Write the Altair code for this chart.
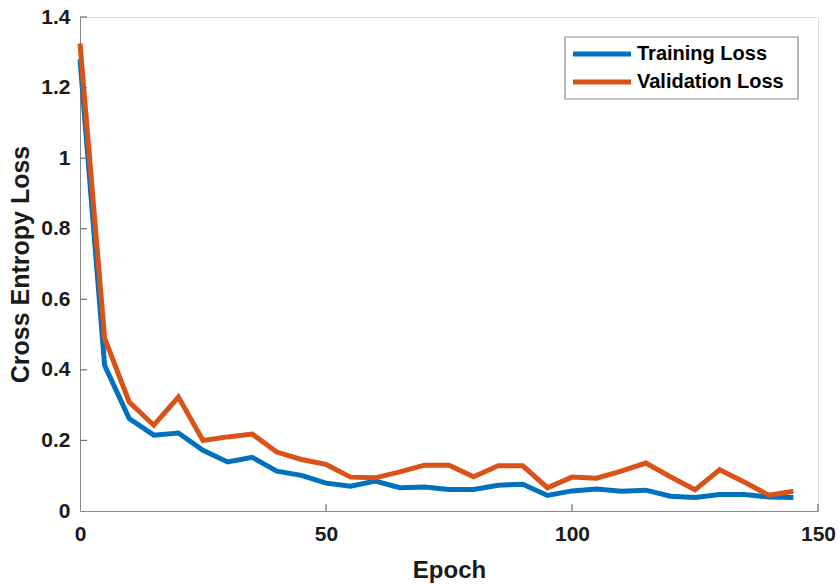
import altair as alt
import pandas as pd

epochs = [0, 5, 10, 15, 20, 25, 30, 35, 40, 45, 50, 55, 60, 65, 70, 75, 80, 85, 90, 95,
          100, 105, 110, 115, 120, 125, 130, 135, 140, 145]
training_loss = [1.28, 0.413, 0.262, 0.215, 0.221, 0.172, 0.139, 0.152, 0.113, 0.101,
                 0.079, 0.070, 0.085, 0.066, 0.068, 0.061, 0.061, 0.073, 0.076, 0.044,
                 0.057, 0.062, 0.056, 0.059, 0.042, 0.038, 0.047, 0.047, 0.040, 0.038]
validation_loss = [1.325, 0.49, 0.309, 0.243, 0.323, 0.200, 0.210, 0.218, 0.167, 0.146,
                   0.132, 0.096, 0.094, 0.111, 0.130, 0.130, 0.097, 0.128, 0.128, 0.066,
                   0.096, 0.093, 0.113, 0.136, 0.097, 0.060, 0.117, 0.082, 0.045, 0.056]
series_names = ["Training Loss", "Validation Loss"]
series_colors = ["#0072BD", "#D95319"]
x_ticks = [0, 50, 100, 150]
y_ticks = [0, 0.2, 0.4, 0.6, 0.8, 1, 1.2, 1.4]

rows = []
for name, vals in zip(series_names, [training_loss, validation_loss]):
    for e, v in zip(epochs, vals):
        rows.append({"Epoch": e, "Loss": v, "Series": name})
df = pd.DataFrame(rows)

W, H = 738, 494
FONT = "Liberation Sans"
AXC = "#6e6e6e"
TXT = "#1a1a1a"

xscale = alt.Scale(domain=[0, 150], nice=False, zero=False)
yscale = alt.Scale(domain=[0, 1.4], nice=False)
cscale = alt.Scale(domain=series_names, range=series_colors)

lines = alt.Chart(df).mark_line(strokeWidth=5, strokeJoin="miter").encode(
    x=alt.X("Epoch:Q", scale=xscale,
            axis=alt.Axis(values=x_ticks, title="Epoch", ticks=False, grid=False,
                          labelFlush=False, labelPadding=12, labelFontSize=21,
                          labelFontWeight="bold", labelFont=FONT, labelColor=TXT,
                          titleFontSize=24, titleFont=FONT, titleFontWeight="bold",
                          titleColor=TXT, titleY=66, titleBaseline="alphabetic")),
    y=alt.Y("Loss:Q", scale=yscale,
            axis=alt.Axis(values=y_ticks, format="~g", title="Cross Entropy Loss",
                          ticks=False, grid=False, labelFlush=False, labelPadding=10,
                          labelFontSize=21, labelFontWeight="bold", labelFont=FONT,
                          labelColor=TXT,
                          titleFontSize=25, titleFont=FONT, titleFontWeight="bold",
                          titleColor=TXT, titleX=-47, titleY=H / 2,
                          titleBaseline="bottom", titleAngle=-90)),
    color=alt.Color("Series:N", scale=cscale, legend=None),
    order=alt.Order("Series:N"),
)

xtick_df = pd.DataFrame({"t": x_ticks[1:]})
ytick_df = pd.DataFrame({"t": y_ticks[1:]})

xticks = alt.Chart(xtick_df).mark_rule(color=AXC, strokeWidth=1.2).encode(
    x=alt.X("t:Q", scale=xscale),
    y=alt.value(H),
    y2=alt.value(H - 7),
)
yticks = alt.Chart(ytick_df).mark_rule(color=AXC, strokeWidth=1.2).encode(
    y=alt.Y("t:Q", scale=yscale),
    x=alt.value(0),
    x2=alt.value(7),
)

# legend built from the series list
legend_df = pd.DataFrame({"Series": series_names, "row": list(range(len(series_names)))})
LX, LY, ROW = 485, 20, 28

legend_box = alt.Chart(pd.DataFrame({"a": [0]})).mark_rect(
    fill="white", stroke="#8c8c8c", strokeWidth=1.2
).encode(
    x=alt.value(LX), x2=alt.value(LX + 233),
    y=alt.value(LY), y2=alt.value(LY + 62),
)
legend_base = alt.Chart(legend_df).transform_calculate(
    py=f"{LY + 17} + datum.row * {ROW}"
)
legend_sym = legend_base.mark_rule(strokeWidth=5).encode(
    x=alt.value(LX + 8), x2=alt.value(LX + 66),
    y=alt.Y("py:Q", scale=None),
    color=alt.Color("Series:N", scale=cscale, legend=None),
)
legend_txt = legend_base.mark_text(
    align="left", baseline="middle", font=FONT, fontSize=20, fontWeight="bold",
    color="black"
).encode(
    x=alt.value(LX + 72),
    y=alt.Y("py:Q", scale=None),
    text="Series:N",
)

chart = alt.layer(lines, xticks, yticks, legend_box, legend_sym, legend_txt).properties(
    width=W, height=H,
    autosize=alt.AutoSizeParams(type="none"),
    padding={"left": 80, "top": 17, "right": 22, "bottom": 73},
).configure_view(stroke=None).configure_axis(
    domainColor=AXC, domainWidth=1.5,
).configure(background="white")

chart.save("out.html", embed_options={"renderer": "svg", "actions": False})
